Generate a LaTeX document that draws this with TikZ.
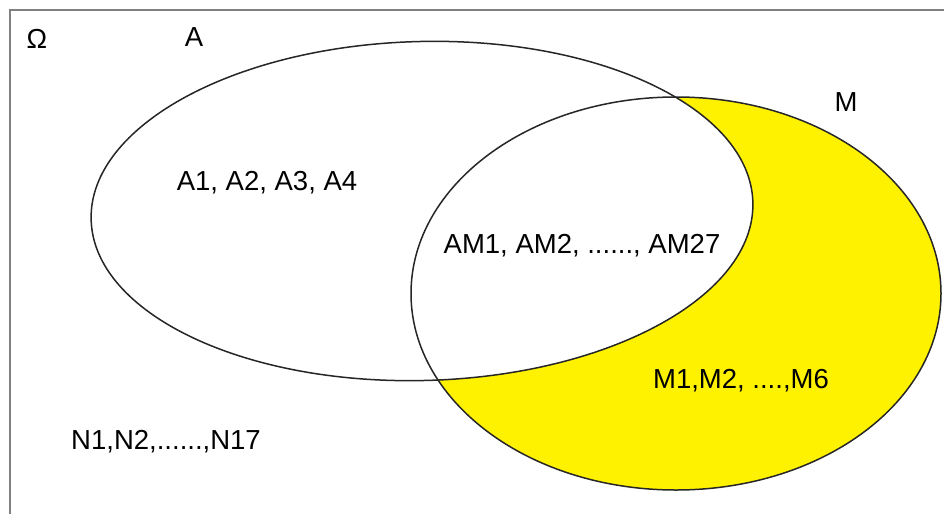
\documentclass[tikz,border=0pt]{standalone}
\usepackage{fontspec}
\setmainfont{Liberation Sans}
\definecolor{vennyellow}{RGB}{255,242,0}
\definecolor{framegray}{RGB}{128,128,128}
\tikzset{
  lbl/.style={font=\fontsize{27.5}{30}\selectfont, inner sep=0pt, text=black},
  setline/.style={draw=black!85, line width=1.5pt},
  seta/.style={x radius=331, y radius=169.5, rotate=1.5},
}
\begin{document}
\begin{tikzpicture}[x=1pt,y=-1pt]
\useasboundingbox (0,0) rectangle (944,514);
% frame (right and bottom edges lie outside the picture)
\draw[framegray, line width=2pt] (944,10) -- (10,10) -- (10,514);
% sets
\fill[vennyellow] (676,293.5) ellipse [x radius=265, y radius=196.5];
\fill[white] (422,211) ellipse [seta];
\draw[setline] (422,211) ellipse [seta];
\draw[setline] (676,293.5) ellipse [x radius=265, y radius=196.5];
% labels
\node[lbl] (omega) at (37,39) {Ω};
\node[lbl] (la) at (194,37) {A};
\node[lbl] (lm) at (846,102) {M};
\node[lbl] (a) at (267,183) {A1, A2, A3, A4};
\node[lbl] (am) at (582,246) {AM1, AM2, ......, AM27};
\node[lbl] (m) at (741,381) {M1,M2, ....,M6};
\node[lbl] (n) at (166,442) {N1,N2,......,N17};
\end{tikzpicture}
\end{document}
